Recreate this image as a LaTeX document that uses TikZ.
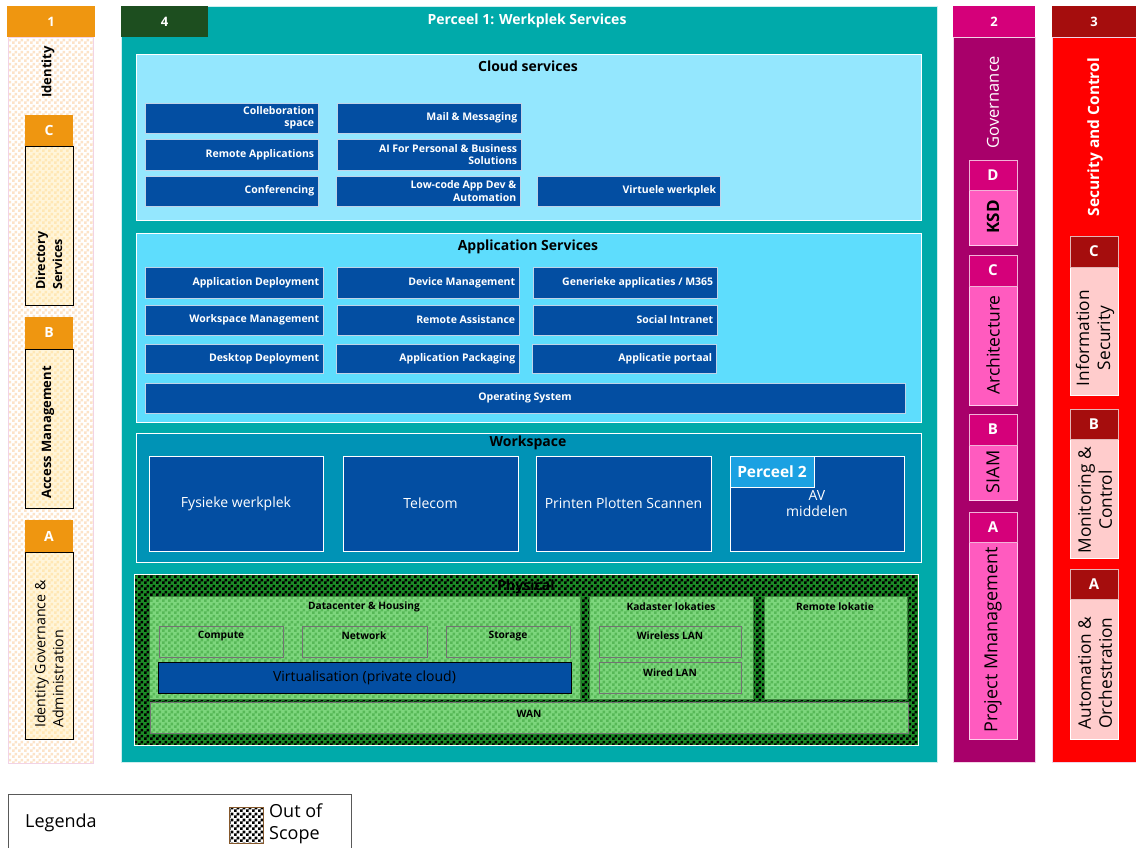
\documentclass[tikz,border=0pt]{standalone}
\usepackage{fontspec}
\setmainfont{Open Sans}
\usetikzlibrary{patterns}
\pgfdeclarepatternformonly{chk}{\pgfpointorigin}{\pgfqpoint{6pt}{6pt}}{\pgfqpoint{6pt}{6pt}}{%
  \pgfpathrectangle{\pgfpointorigin}{\pgfqpoint{3pt}{3pt}}%
  \pgfpathrectangle{\pgfqpoint{3pt}{3pt}}{\pgfqpoint{3pt}{3pt}}%
  \pgfusepath{fill}}
\definecolor{orng}{HTML}{EF9610}
\definecolor{dgreen}{HTML}{1D4E1F}
\definecolor{tealc}{HTML}{00AAAA}
\definecolor{cloudc}{HTML}{94E7FE}
\definecolor{appc}{HTML}{5EDDFD}
\definecolor{wsc}{HTML}{0093B6}
\definecolor{dblue}{HTML}{034EA2}
\definecolor{lblue}{HTML}{1BA1E2}
\definecolor{mag}{HTML}{D5007A}
\definecolor{magd}{HTML}{A8006A}
\definecolor{pinkb}{HTML}{FF5BBF}
\definecolor{dred}{HTML}{A50D0D}
\definecolor{redc}{HTML}{FF0000}
\definecolor{lpink}{HTML}{FFCCCC}
\definecolor{peach}{HTML}{FCE3C8}
\definecolor{ylwbg}{HTML}{FFF5DA}
\definecolor{ylwpat}{HTML}{FFE7B4}
\definecolor{dgrnbase}{HTML}{1C8A26}
\definecolor{lgrnbase}{HTML}{7DD67D}
\definecolor{lgrnpat}{HTML}{57B857}
\definecolor{pinkline}{HTML}{F2D3E6}
\newcommand\fsz[2]{\fontsize{#1pt}{#2pt}\selectfont}
% name, style, x1, y1, x2, y2, text
\newcommand\rb[7]{\node[#2, minimum width={#5-#3}, minimum height={#6-#4}, inner sep=0pt] (#1) at ({(#3+#5)/2},{(#4+#6)/2}) {#7};}
% blue box with right aligned text: name, x1, y1, x2, y2, text
\newcommand\bb[6]{\node[bbox, minimum width={#4-#2}, minimum height={#5-#3}, inner sep=0pt] (#1) at ({(#2+#4)/2},{(#3+#5)/2}) {};
  \node[btxt, anchor=east] (#1-t) at ([xshift=-4pt]#1.east) {#6};}
\tikzset{
  hd/.style={text=white, font=\bfseries\fsz{13}{15}},
  sh/.style={text=white, font=\bfseries\fsz{14}{16}},
  rot/.style={rotate=90, inner sep=0pt, text=black},
  bbox/.style={fill=dblue, draw=white!75!dblue, line width=0.8pt},
  btxt/.style={text=white, font=\bfseries\fsz{10.5}{12.5}, align=right, inner sep=0pt},
  panel/.style={draw=white, line width=0.8pt},
  ptitle/.style={font=\bfseries\fsz{14}{16}, inner sep=0pt},
  wbox/.style={fill=dblue, draw=white, line width=0.8pt, text=white, font=\fsz{14}{16}},
  lchk/.style={preaction={fill=lgrnbase}, pattern=chk, pattern color=lgrnpat, draw=black!55, line width=0.6pt},
  lchkb/.style={preaction={fill=lgrnbase}, pattern=chk, pattern color=lgrnpat, draw=lgrnpat!70!black, line width=0.4pt},
  ltitle/.style={font=\bfseries\fsz{10.2}{12}, inner sep=0pt},
  subY/.style={preaction={fill=ylwbg}, pattern=chk, pattern color=ylwpat, draw=black, line width=0.7pt},
  sh2/.style={fill=mag, draw=white!70!mag, line width=0.8pt, text=white, font=\bfseries\fsz{15}{17}},
  sb2/.style={fill=pinkb, draw=white!70!pinkb, line width=0.8pt},
  sh3/.style={fill=dred, draw=white!70!dred, line width=0.8pt, text=white, font=\bfseries\fsz{15}{17}},
  sb3/.style={fill=lpink, draw=white, line width=0.8pt},
}
\begin{document}
\begin{tikzpicture}[x=1pt,y=-1pt]
\useasboundingbox[fill=white] (0,0) rectangle (1136,848);

% ---------- Column 1: Identity ----------
\rb{c1}{preaction={fill=white}, pattern=chk, pattern color=peach, draw=pinkline, line width=0.8pt}{8}{37}{93}{763}{}
\rb{c1h}{hd, fill=orng}{7}{6}{95}{37}{1}
\node[rot, font=\bfseries\fsz{13}{15}] (c1t) at (48,72) {Identity};
\rb{c1C}{subY}{25}{146}{73}{305}{}
\rb{c1Ch}{sh, fill=orng}{25}{115}{73}{146}{C}
\node[rot, anchor=west, align=left, font=\bfseries\fsz{12.5}{17}] (c1Ct) at (49,290) {Directory\\Services};
\rb{c1B}{subY}{25}{349}{73}{508}{}
\rb{c1Bh}{sh, fill=orng}{25}{317}{73}{349}{B}
\node[rot, anchor=west, font=\bfseries\fsz{13}{15}] (c1Bt) at (48,499) {Access Management};
\rb{c1A}{subY}{25}{552}{73}{739}{}
\rb{c1Ah}{sh, fill=orng}{25}{520}{73}{552}{A}
\node[rot, anchor=west, align=left, font=\fsz{14.2}{18}] (c1At) at (49,728) {Identity Governance \&\\Administration};

% ---------- Column 4: Perceel 1 ----------
\rb{c4}{fill=tealc, draw=white!80!tealc, line width=0.6pt}{121}{6}{937}{762}{}
\rb{c4h}{hd, fill=dgreen}{121}{6}{208}{37}{4}
\node[text=white, font=\bfseries\fsz{14}{16}, inner sep=0pt] (c4t) at (527,21) {Perceel 1: Werkplek Services};

% Cloud services
\rb{cloud}{panel, fill=cloudc}{136}{54}{921}{220}{}
\node[ptitle] (cloud-t) at (528,66) {Cloud services};
\bb{cs1}{145}{103}{318}{133}{Colleboration\\space}
\bb{cs2}{337}{103}{521}{133}{Mail \& Messaging}
\bb{cs3}{145}{139}{318}{170}{Remote Applications}
\bb{cs4}{337}{139}{521}{170}{AI For Personal \& Business\\Solutions}
\bb{cs5}{145}{176}{318}{206}{Conferencing}
\bb{cs6}{336}{176}{520}{206}{Low-code App Dev \&\\Automation}
\bb{cs7}{537}{176}{720}{206}{Virtuele werkplek}

% Application services
\rb{app}{panel, fill=appc}{136}{233}{921}{422}{}
\node[ptitle] (app-t) at (528,247) {Application Services};
\bb{as1}{145}{267}{323}{298}{Application Deployment}
\bb{as2}{337}{267}{519}{298}{Device Management}
\bb{as3}{533}{267}{717}{298}{Generieke applicaties / M365}
\bb{as4}{145}{305}{323}{335}{Workspace Management}
\bb{as5}{337}{305}{519}{335}{Remote Assistance}
\bb{as6}{533}{305}{717}{335}{Social Intranet}
\bb{as7}{145}{344}{323}{373}{Desktop Deployment}
\bb{as8}{336}{344}{519}{373}{Application Packaging}
\bb{as9}{532}{344}{716}{373}{Applicatie portaal}
\rb{os}{bbox, text=white, font=\bfseries\fsz{10.5}{12.5}}{145}{383}{905}{413}{Operating System}

% Workspace
\rb{ws}{panel, fill=wsc}{136}{433}{921}{562}{}
\node[ptitle] (ws-t) at (528,443) {Workspace};
\rb{ws1}{wbox}{149}{456}{323}{551}{Fysieke werkplek}
\rb{ws2}{wbox}{343}{456}{518}{551}{Telecom}
\rb{ws3}{wbox}{536}{456}{711}{551}{Printen Plotten Scannen}
\rb{ws4}{wbox}{730}{456}{904}{551}{}
\rb{p2}{fill=lblue, draw=white, line width=0.8pt, text=white, font=\bfseries\fsz{15.5}{17}}{730}{456}{814}{487}{Perceel 2}
\node[text=white, align=center, font=\fsz{14}{16}, inner sep=0pt] (ws4-t) at (817,504) {AV\\middelen};

% Physical
\rb{phys}{preaction={fill=dgrnbase}, pattern=chk, pattern color=black, draw=white, line width=0.8pt}{134}{574}{918}{745}{}
\node[font=\bfseries\fsz{14}{16}, inner sep=0pt] (phys-t) at (526,587) {Physical};
\rb{dc}{lchkb}{149}{596}{580}{699}{}
\node[ltitle] (dc-t) at (364,607) {Datacenter \& Housing};
\rb{comp}{lchk}{159}{626}{283}{657}{}
\node[ltitle] (comp-t) at (221,636) {Compute};
\rb{net}{lchk}{302}{626}{427}{657}{}
\node[ltitle] (net-t) at (364,636) {Network};
\rb{stor}{lchk}{446}{626}{570}{657}{}
\node[ltitle] (stor-t) at (508,636) {Storage};
\rb{virt}{fill=dblue, draw=black, line width=0.7pt, font=\fsz{14}{16}}{158}{662}{571}{693}{Virtualisation (private cloud)}
\rb{kad}{lchkb}{589}{596}{753}{699}{}
\node[ltitle] (kad-t) at (671,607) {Kadaster lokaties};
\rb{wlan}{lchk}{599}{626}{741}{657}{}
\node[ltitle] (wlan-t) at (670,636) {Wireless LAN};
\rb{wired}{lchk}{599}{662}{741}{693}{}
\node[ltitle] (wired-t) at (670,673) {Wired LAN};
\rb{rem}{lchkb}{764}{596}{907}{699}{}
\node[ltitle] (rem-t) at (835,607) {Remote lokatie};
\rb{wan}{lchk}{150}{702}{908}{733}{}
\node[ltitle] (wan-t) at (529,714) {WAN};

% ---------- Column 2: Governance ----------
\rb{c2}{fill=magd, draw=pinkline, line width=0.8pt}{953}{37}{1035}{762}{}
\rb{c2h}{hd, fill=mag}{953}{6}{1035}{37}{2}
\node[rot, text=white, font=\fsz{16.5}{18}] (c2t) at (993,102) {Governance};
\rb{c2D}{sb2}{969}{190}{1017}{245}{}
\rb{c2Dh}{sh2}{969}{160}{1017}{190}{D}
\node[rot, font=\bfseries\fsz{17}{19}] (c2Dt) at (993,217) {KSD};
\rb{c2C}{sb2}{969}{286}{1017}{405}{}
\rb{c2Ch}{sh2}{969}{255}{1017}{286}{C}
\node[rot, font=\fsz{17.5}{19}] (c2Ct) at (993,345) {Architecture};
\rb{c2B}{sb2}{969}{445}{1017}{500}{}
\rb{c2Bh}{sh2}{969}{414}{1017}{445}{B}
\node[rot, font=\fsz{18}{20}] (c2Bt) at (993,472) {SIAM};
\rb{c2A}{sb2}{969}{542}{1017}{739}{}
\rb{c2Ah}{sh2}{969}{512}{1017}{542}{A}
\node[rot, font=\fsz{18}{20}] (c2At) at (993,640) {Project Mnanagement};

% ---------- Column 3: Security and Control ----------
\rb{c3}{fill=redc, draw=pinkline, line width=0.8pt}{1052}{37}{1136}{762}{}
\rb{c3h}{hd, fill=dred}{1052}{6}{1136}{37}{3}
\node[rot, text=white, font=\bfseries\fsz{15.5}{17}] (c3t) at (1095,137) {Security and Control};
\rb{c3C}{sb3}{1070}{267}{1118}{395}{}
\rb{c3Ch}{sh3}{1070}{236}{1118}{267}{C}
\node[rot, align=center, font=\fsz{17.3}{21}] (c3Ct) at (1095,338) {Information\\Security};
\rb{c3B}{sb3}{1070}{439}{1118}{558}{}
\rb{c3Bh}{sh3}{1070}{409}{1118}{439}{B}
\node[rot, align=center, font=\fsz{17.3}{21}] (c3Bt) at (1095,500) {Monitoring \&\\Control};
\rb{c3A}{sb3}{1070}{599}{1118}{739}{}
\rb{c3Ah}{sh3}{1070}{569}{1118}{599}{A}
\node[rot, align=center, font=\fsz{17.3}{21}] (c3At) at (1095,673) {Automation \&\\Orchestration};

% ---------- Legend ----------
\rb{leg}{draw=black!65, line width=0.8pt}{8}{794}{351}{880}{}
\node[anchor=west, font=\fsz{18}{21}, inner sep=0pt] (leg-t) at (25,823) {Legenda};
\rb{legchk}{preaction={fill=white}, pattern=chk, pattern color=black, draw=brown!70!black, line width=0.7pt}{229}{807}{263}{843}{}
\node[anchor=west, align=left, font=\fsz{18}{22}, inner sep=0pt] (legchk-t) at (269,824) {Out of\\Scope};
\end{tikzpicture}
\end{document}
